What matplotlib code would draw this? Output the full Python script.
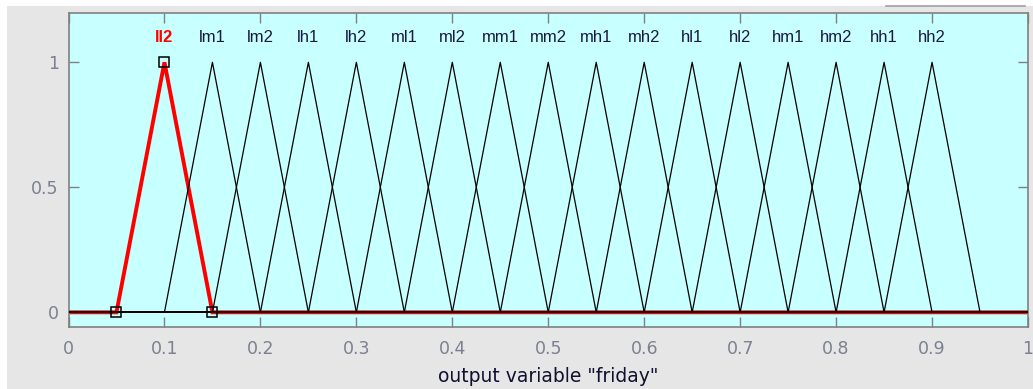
import numpy as np
import matplotlib
matplotlib.use("Agg")
import matplotlib.pyplot as plt
from matplotlib.patches import Rectangle

# Membership functions of the output variable (triangular: left foot, peak, right foot)
mf_names = ['ll2', 'lm1', 'lm2', 'lh1', 'lh2', 'ml1', 'ml2', 'mm1', 'mm2',
            'mh1', 'mh2', 'hl1', 'hl2', 'hm1', 'hm2', 'hh1', 'hh2']
mf_left = [0.05, 0.10, 0.15, 0.20, 0.25, 0.30, 0.35, 0.40, 0.45,
           0.50, 0.55, 0.60, 0.65, 0.70, 0.75, 0.80, 0.85]
mf_peak = [0.10, 0.15, 0.20, 0.25, 0.30, 0.35, 0.40, 0.45, 0.50,
           0.55, 0.60, 0.65, 0.70, 0.75, 0.80, 0.85, 0.90]
mf_right = [0.15, 0.20, 0.25, 0.30, 0.35, 0.40, 0.45, 0.50, 0.55,
            0.60, 0.65, 0.70, 0.75, 0.80, 0.85, 0.90, 0.95]
selected = 'll2'

x_range = [0.0, 1.0]
x_ticks = [0, 0.1, 0.2, 0.3, 0.4, 0.5, 0.6, 0.7, 0.8, 0.9, 1]
x_ticklabels = ['0', '0.1', '0.2', '0.3', '0.4', '0.5', '0.6', '0.7', '0.8', '0.9', '1']
y_ticks = [0, 0.5, 1]
y_ticklabels = ['0', '0.5', '1']

plt.rcParams['font.family'] = ['DejaVu Sans']
label_font = ['Liberation Sans Narrow', 'Liberation Sans', 'DejaVu Sans']

fig = plt.figure(figsize=(10.33, 3.89), dpi=100)
fig.patch.set_facecolor('white')
# window panel behind the axes
fig.add_artist(Rectangle((7 / 1033, 0), 1, 1 - 6 / 389, transform=fig.transFigure,
                         facecolor='#e6e6e6', edgecolor='none', zorder=-10))
fig.add_artist(plt.Line2D([886 / 1033, 1025 / 1033], [1 - 5.5 / 389] * 2,
                          transform=fig.transFigure, color='#a0a0a0', lw=1.2))

ax = fig.add_axes([68.5 / 1033, 1 - 327.3 / 389, 959.5 / 1033, 314 / 389])
ax.set_facecolor('#c8ffff')

for name, a, b, c in zip(mf_names, mf_left, mf_peak, mf_right):
    xs = [x_range[0], a, b, c, x_range[1]]
    ys = [0, 0, 1, 0, 0]
    if name == selected:
        ax.plot(xs, ys, color='#ff0000', lw=2.8, zorder=2, solid_joinstyle='miter')
        ax.plot([a, b, c], [0, 1, 0], ls='none', marker='s', ms=7.5,
                mfc='none', mec='black', mew=1.1, zorder=5)
        ax.text(b, 1.10, name, color='#ff0000', fontsize=12, fontweight='bold',
                family=label_font, ha='center', va='center')
    else:
        ax.plot(xs, ys, color='black', lw=0.9, zorder=3)
        ax.text(b, 1.10, name, color='#1a1a40', fontsize=12,
                family=label_font, ha='center', va='center')

ax.set_xlim(x_range)
ax.set_ylim(-0.06, 1.196)
ax.set_xticks(x_ticks)
ax.set_xticklabels(x_ticklabels)
ax.set_yticks(y_ticks)
ax.set_yticklabels(y_ticklabels)
ax.tick_params(direction='in', length=7, width=1, color='#808080',
               labelcolor='#7c8090', labelsize=12.5, top=True, right=True)
ax.tick_params(axis='x', pad=9.5)
ax.tick_params(axis='y', pad=7)
for s in ax.spines.values():
    s.set_color('#808080')
    s.set_linewidth(1.2)

ax.set_xlabel('output variable "friday"', fontsize=13.5, color='#101030', labelpad=6)

fig.savefig('out.png', dpi=100, facecolor=fig.get_facecolor())
